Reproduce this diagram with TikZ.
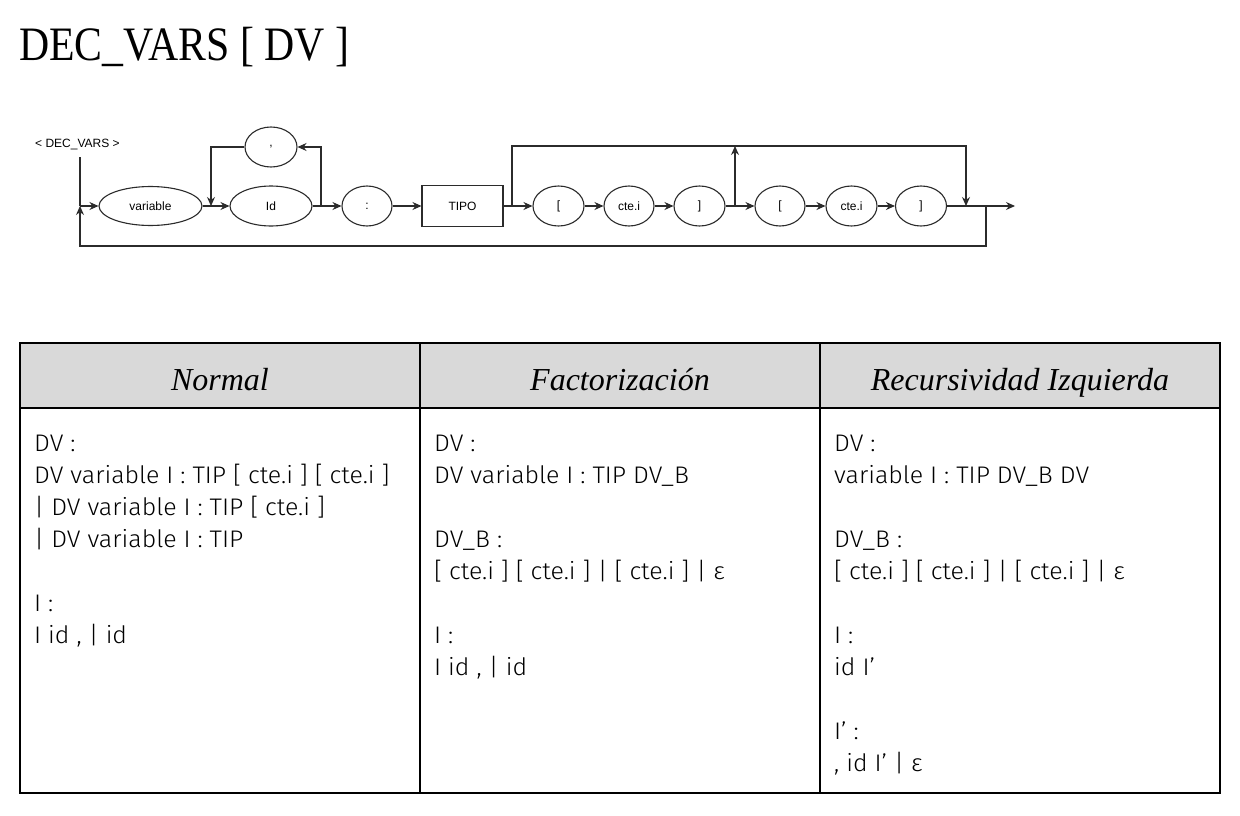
\documentclass[tikz,border=0pt]{standalone}
\usepackage{fontspec}
\setmainfont{Liberation Serif}
\newfontfamily\titlef[FakeStretch=0.87]{Liberation Serif}
\newfontfamily\diagf{Liberation Sans}
\IfFontExistsTF{Fira Sans Light}
  {\newfontfamily\bodyf[FakeStretch=1.04]{Fira Sans Light}}
  {\newfontfamily\bodyf[FakeStretch=1.0]{Liberation Sans}}
\usetikzlibrary{shapes.geometric,arrows.meta}
\definecolor{lc}{HTML}{2B2B2B}
\definecolor{hdrfill}{HTML}{D9D9D9}
\begin{document}
\begin{tikzpicture}[x=1pt,y=-1pt,
  ell/.style={ellipse,draw=lc,line width=1.1pt,minimum width=50pt,minimum height=40pt,inner sep=0pt,font=\diagf\fontsize{12}{14}\selectfont},
  boxn/.style={rectangle,draw=lc,line width=1.1pt,minimum width=81pt,minimum height=41pt,inner sep=0pt,font=\diagf\fontsize{12}{14}\selectfont},
  arr/.style={-{Stealth[length=9pt,width=8pt]},draw=lc,line width=1.1pt},
  ln/.style={draw=lc,line width=1.1pt},
  lbl/.style={inner sep=0pt,font=\diagf\fontsize{12}{14}\selectfont},
  titlen/.style={inner sep=0pt,anchor=base west,font=\titlef\fontsize{48}{56}\selectfont},
  hdrtxt/.style={inner sep=0pt,anchor=base,font=\itshape\fontsize{32}{38}\selectfont},
  bodytxt/.style={inner sep=0pt,anchor=base west,font=\bodyf\fontsize{24}{28}\selectfont},
  tline/.style={draw=black,line width=2pt},
  tborder/.style={draw=black,line width=2.5pt}]
\useasboundingbox (0,0) rectangle (1240,816);
\fill[white] (0,0) rectangle (1240,816);

% title
\node[titlen] (title) at (19,60) {DEC\_VARS [ DV ]};

% railroad diagram
\node[lbl,anchor=base west] (start) at (35,147) {< DEC\_VARS >};
\coordinate (s0) at (80,157);
\coordinate (j0) at (80,206);
\node[ell,minimum width=103pt,minimum height=39pt] (var) at (150.5,206) {variable};
\node[ell,minimum width=82pt] (id) at (271,206) {Id};
\node[ell,minimum width=52pt] (comma) at (271,147) {,};
\node[ell] (colon) at (367,206) {:};
\node[boxn] (tipo) at (462.5,206) {TIPO};
\node[ell,minimum width=51pt] (lb1) at (558.5,206) {[};
\node[ell] (c1) at (629,206) {cte.i};
\node[ell,minimum width=51pt] (rb1) at (699.5,206) {]};
\node[ell] (lb2) at (780,206) {[};
\node[ell,minimum width=51pt] (c2) at (851.5,206) {cte.i};
\node[ell,minimum width=51pt] (rb2) at (921,206) {]};
\coordinate (endp) at (1015,206);

\coordinate (m1) at (211,206);
\coordinate (b1) at (321,206);
\coordinate (b2) at (512,206);
\coordinate (t1) at (512,146);
\coordinate (t2) at (966,146);
\coordinate (m3) at (966,206);
\coordinate (b3) at (735,206);
\coordinate (t3) at (735,146);
\coordinate (b4) at (986,206);
\coordinate (d4) at (986,246);
\coordinate (d0) at (80,246);

\draw[ln] (s0) -- (j0);
\draw[arr] (j0) -- (var.west);
\draw[arr] (var.east) -- (id.west);
\draw[arr] (id.east) -- (colon.west);
\draw[arr] (b1) |- (comma.east);
\draw[arr] (comma.west) -| (m1);
\draw[arr] (colon.east) -- (tipo.west);
\draw[arr] (tipo.east) -- (lb1.west);
\draw[arr] (lb1.east) -- (c1.west);
\draw[arr] (c1.east) -- (rb1.west);
\draw[arr] (rb1.east) -- (lb2.west);
\draw[arr] (lb2.east) -- (c2.west);
\draw[arr] (c2.east) -- (rb2.west);
\draw[arr] (rb2.east) -- (endp);
\draw[arr] (b2) -- (t1) -- (t2) -- (m3);
\draw[arr] (b3) -- (t3);
\draw[arr] (b4) -- (d4) -- (d0) -- (j0);

% table
\fill[hdrfill] (20,343) rectangle (1220,408);
\draw[tline] (20,408) -- (1220,408);
\draw[tline] (420,343) -- (420,793);
\draw[tline] (820,343) -- (820,793);
\draw[tborder] (20,343) rectangle (1220,793);

\node[hdrtxt] (h1) at (220,390) {Normal};
\node[hdrtxt] (h2) at (620,390) {Factorización};
\node[hdrtxt] (h3) at (1020,390) {Recursividad Izquierda};

% column 1
\node[bodytxt] (n1) at (34,451) {DV :};
\node[bodytxt] (n2) at (34,483) {DV variable I : TIP [ cte.i ] [ cte.i ]};
\node[bodytxt] (n3) at (34,515) {| DV variable I : TIP [ cte.i ]};
\node[bodytxt] (n4) at (34,547) {| DV variable I : TIP};
\node[bodytxt] (n5) at (34,611) {I :};
\node[bodytxt] (n6) at (34,643) {I id , | id};

% column 2
\node[bodytxt] (f1) at (434,451) {DV :};
\node[bodytxt] (f2) at (434,483) {DV variable I : TIP DV\_B};
\node[bodytxt] (f3) at (434,547) {DV\_B :};
\node[bodytxt] (f4) at (434,579) {[ cte.i ] [ cte.i ] | [ cte.i ] | ε};
\node[bodytxt] (f5) at (434,643) {I :};
\node[bodytxt] (f6) at (434,675) {I id , | id};

% column 3
\node[bodytxt] (r1) at (834,451) {DV :};
\node[bodytxt] (r2) at (834,483) {variable I : TIP DV\_B DV};
\node[bodytxt] (r3) at (834,547) {DV\_B :};
\node[bodytxt] (r4) at (834,579) {[ cte.i ] [ cte.i ] | [ cte.i ] | ε};
\node[bodytxt] (r5) at (834,643) {I :};
\node[bodytxt] (r6) at (834,675) {id I’};
\node[bodytxt] (r7) at (834,739) {I’ :};
\node[bodytxt] (r8) at (834,771) {, id I’ | ε};
\end{tikzpicture}
\end{document}
